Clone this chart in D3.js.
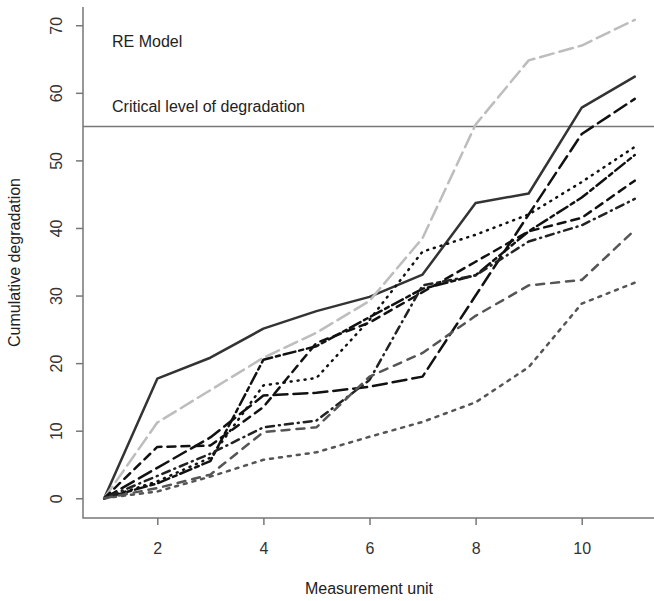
<!DOCTYPE html>
<html>
<head>
<meta charset="utf-8">
<script src="https://cdn.jsdelivr.net/npm/d3@7"></script>
<style>
  body { margin: 0; background: #fff; }
  text { font-family: "Liberation Sans", Arial, sans-serif; }
</style>
</head>
<body>
<svg id="chart"></svg>
<script>
var svgWidth = 654;
var svgHeight = 601;

// measurement units on the x axis
var units = [1, 2, 3, 4, 5, 6, 7, 8, 9, 10, 11];
var xTicks = [2, 4, 6, 8, 10];
var yTicks = [0, 10, 20, 30, 40, 50, 60, 70];
var criticalLevel = 55;

// cumulative degradation per study
var study1 = [0, 17.7, 20.8, 25.1, 27.7, 29.8, 33.1, 43.7, 45.1, 57.8, 62.4];
var study2 = [0, 11.2, 16.0, 20.8, 24.5, 29.2, 38.5, 55.3, 64.8, 67.0, 70.8];
var study3 = [0, 4.5, 9.0, 15.2, 15.6, 16.5, 18.0, 30.0, 42.0, 53.9, 59.1];
var study4 = [0, 2.5, 6.0, 16.7, 17.8, 26.4, 36.5, 39.0, 42.0, 46.8, 52.0];
var study5 = [0, 2.2, 5.5, 20.5, 22.5, 26.8, 31.0, 33.0, 39.5, 44.5, 50.8];
var study6 = [0, 7.6, 7.8, 13.5, 23.0, 26.0, 30.5, 35.0, 39.5, 41.5, 47.0];
var study7 = [0, 3.3, 6.6, 10.5, 11.5, 17.5, 31.5, 33.0, 38.0, 40.4, 44.3];
var study8 = [0, 1.5, 3.5, 9.8, 10.5, 18.0, 21.5, 27.0, 31.5, 32.3, 39.7];
var study9 = [0, 1.0, 3.2, 5.7, 6.8, 9.1, 11.3, 14.2, 19.4, 28.8, 31.9];

var allStudies = [study1, study2, study3, study4, study5, study6, study7, study8, study9];

// line look for each study, same order as above
var lineStyles = [
  { color: "#333", dash: null },
  { color: "#bdbdbd", dash: "14,6" },
  { color: "#111", dash: "14,6" },
  { color: "#111", dash: "1,6" },
  { color: "#111", dash: "4,4,12,4" },
  { color: "#111", dash: "8,6" },
  { color: "#222", dash: "1,5,8,5" },
  { color: "#555", dash: "8,7" },
  { color: "#555", dash: "3,6" }
];

var svg = d3.select("#chart")
  .attr("width", svgWidth)
  .attr("height", svgHeight);

var plot = { left: 83, right: 656, top: 7, bottom: 518 };

var xScale = d3.scaleLinear()
  .domain([0.6, 11.4])
  .range([plot.left, plot.right]);

var yScale = d3.scaleLinear()
  .domain([-2.92, 72.7])
  .range([plot.bottom, plot.top]);

// axes (ticks only, box drawn below)
var xAxis = svg.append("g")
  .attr("transform", `translate(0, ${plot.bottom})`)
  .call(d3.axisBottom(xScale).tickValues(xTicks).tickSize(7).tickPadding(18).tickSizeOuter(0));

var yAxis = svg.append("g")
  .attr("transform", `translate(${plot.left}, 0)`)
  .call(d3.axisLeft(yScale).tickValues(yTicks).tickSize(7).tickSizeOuter(0));

xAxis.select(".domain").remove();
yAxis.select(".domain").remove();
svg.selectAll(".tick line").attr("stroke", "#777").attr("stroke-width", 1.5);

xAxis.selectAll(".tick text")
  .attr("font-size", "16px")
  .attr("fill", "#333");

// y tick labels run upward like R's default
yAxis.selectAll(".tick text")
  .attr("font-size", "16px")
  .attr("fill", "#333")
  .attr("x", null)
  .attr("dy", null)
  .attr("text-anchor", "middle")
  .attr("transform", "translate(-21, 0) rotate(-90)");

// L shaped box
svg.append("path")
  .attr("d", `M${plot.left},${plot.top}V${plot.bottom}H${svgWidth}`)
  .attr("fill", "none")
  .attr("stroke", "#777")
  .attr("stroke-width", 1.5);

// critical level line
svg.append("line")
  .attr("x1", plot.left)
  .attr("x2", svgWidth)
  .attr("y1", yScale(criticalLevel))
  .attr("y2", yScale(criticalLevel))
  .attr("stroke", "#777")
  .attr("stroke-width", 1.5);

var line = d3.line()
  .x((d, i) => xScale(units[i]))
  .y(d => yScale(d));

svg.append("g")
  .selectAll("path")
  .data(allStudies)
  .enter()
  .append("path")
  .attr("d", d => line(d))
  .attr("fill", "none")
  .attr("stroke", (d, i) => lineStyles[i].color)
  .attr("stroke-width", 2.5)
  .attr("stroke-linecap", "round")
  .attr("stroke-linejoin", "round")
  .attr("stroke-dasharray", (d, i) => lineStyles[i].dash);

// in-plot labels
svg.append("text")
  .attr("x", 112)
  .attr("y", 47)
  .attr("font-size", "16px")
  .attr("fill", "#222")
  .text("RE Model");

svg.append("text")
  .attr("x", 112)
  .attr("y", 112)
  .attr("font-size", "16px")
  .attr("fill", "#222")
  .text("Critical level of degradation");

// axis titles
svg.append("text")
  .attr("x", 369)
  .attr("y", 594)
  .attr("text-anchor", "middle")
  .attr("font-size", "16px")
  .attr("fill", "#222")
  .text("Measurement unit");

svg.append("text")
  .attr("transform", `translate(20, ${(plot.top + plot.bottom) / 2}) rotate(-90)`)
  .attr("text-anchor", "middle")
  .attr("font-size", "16px")
  .attr("fill", "#222")
  .text("Cumulative degradation");
</script>
</body>
</html>
